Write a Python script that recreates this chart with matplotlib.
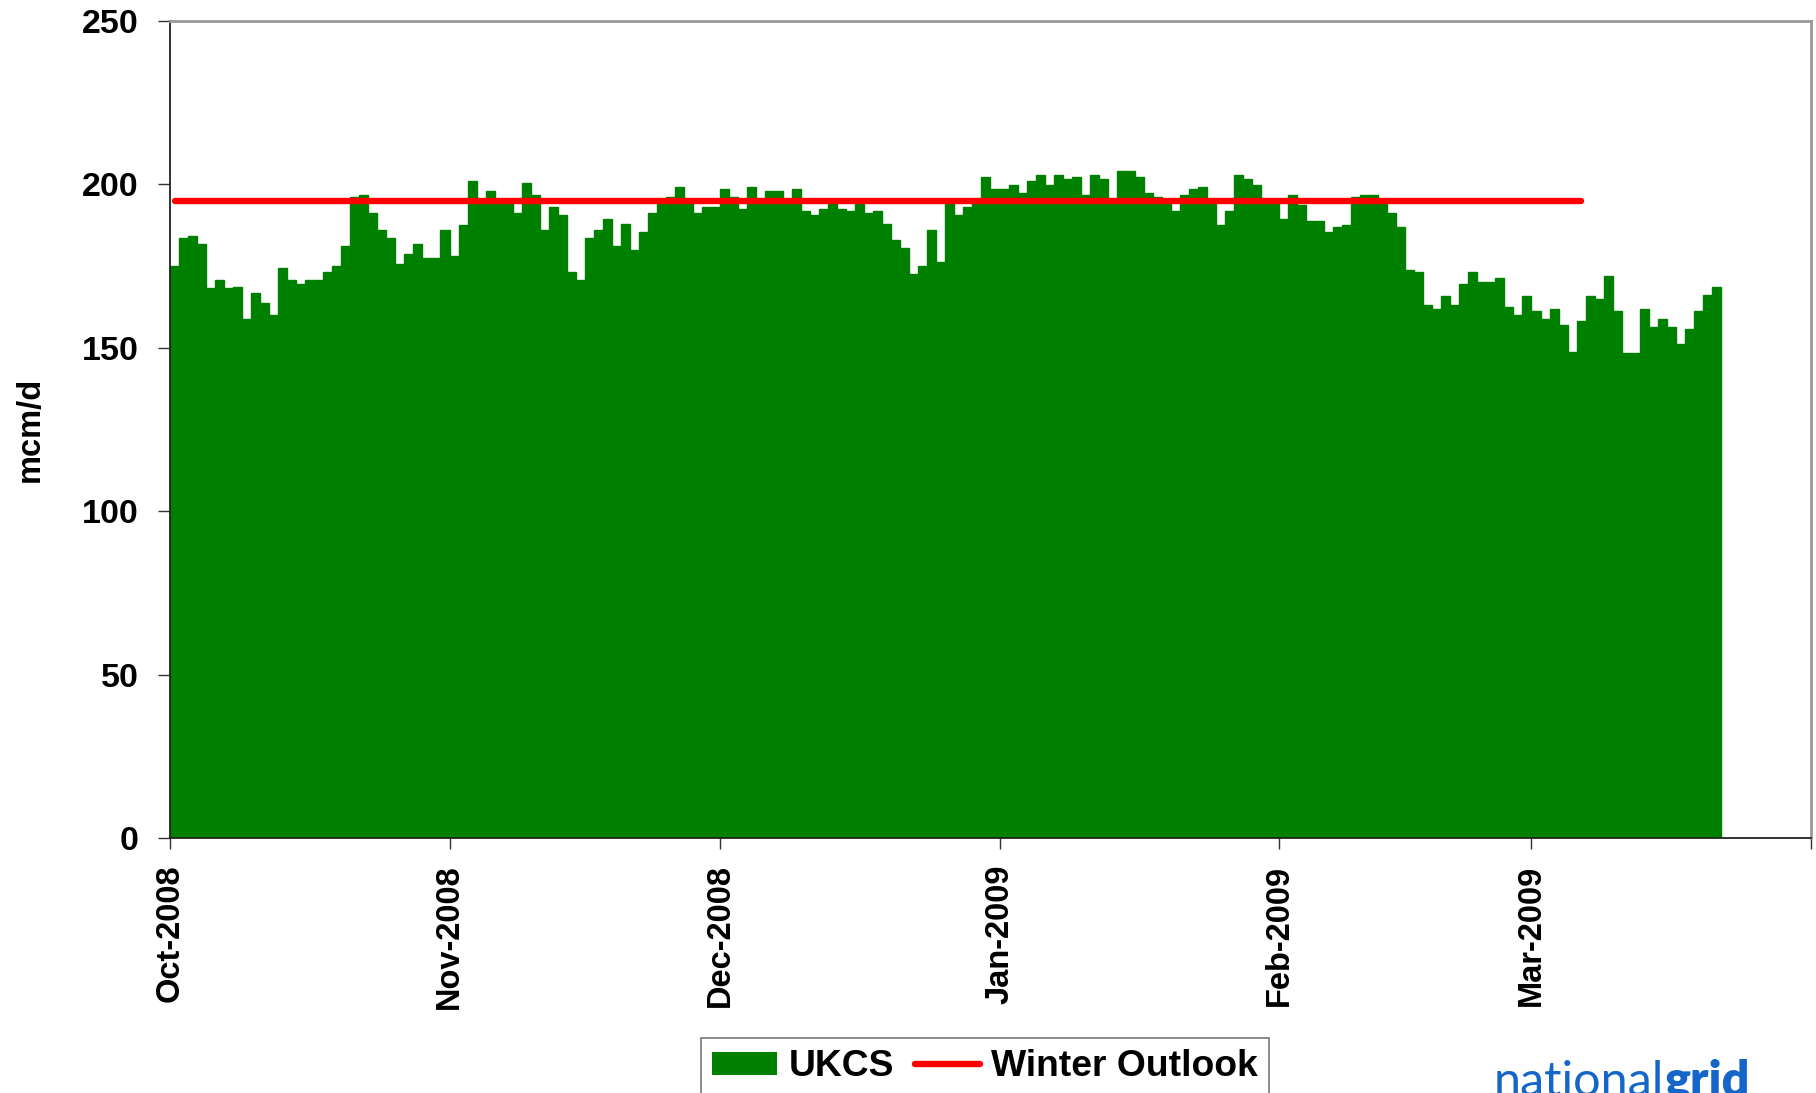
import numpy as np
import pandas as pd
import matplotlib
matplotlib.use("Agg")
import matplotlib.pyplot as plt
import matplotlib.dates as mdates
from matplotlib.patches import Patch
from matplotlib.lines import Line2D

plt.rcParams['font.family'] = ['Liberation Sans', 'DejaVu Sans']

# ---- data (mcm/d), daily from 1 Oct 2008 ----
start_date = "2008-10-01"
ukcs = [
    175.0, 183.6, 184.2, 181.7, 168.3, 170.7, 168.3, 168.6, 158.8, 166.7,
    163.7, 160.0, 174.4, 170.7, 169.5, 170.7, 170.7, 173.2, 175.0, 181.1,
    196.1, 196.7, 191.2, 186.0, 183.6, 175.6, 178.7, 181.7, 177.4, 177.4,
    186.0, 178.1, 187.6, 201.0, 193.9, 198.0, 195.3, 195.0, 191.2, 200.4,
    196.7, 186.0, 193.1, 190.6, 173.2, 170.7, 183.6, 186.0, 189.4, 181.1,
    187.9, 179.9, 185.4, 191.2, 195.2, 196.1, 199.2, 195.4, 191.2, 193.1,
    193.1, 198.6, 196.1, 192.4, 199.2, 195.5, 198.0, 198.0, 195.3, 198.6,
    191.8, 190.6, 192.4, 193.9, 192.4, 191.8, 193.9, 191.2, 191.8, 187.9,
    183.0, 180.5, 172.6, 175.0, 186.0, 176.2, 195.2, 190.6, 193.1, 195.0,
    202.2, 198.6, 198.6, 199.8, 197.3, 201.0, 202.9, 199.8, 202.9, 201.6,
    202.2, 196.7, 202.9, 201.6, 195.3, 204.1, 204.1, 202.2, 197.3, 196.1,
    195.2, 191.8, 196.7, 198.6, 199.2, 195.3, 187.6, 191.8, 202.9, 201.6,
    199.8, 193.9, 193.9, 189.4, 196.7, 193.7, 188.8, 188.8, 185.4, 187.0,
    187.6, 196.1, 196.7, 196.7, 193.9, 191.2, 187.0, 173.8, 173.2, 163.1,
    161.8, 165.8, 163.1, 169.5, 173.2, 170.1, 170.1, 171.3, 162.4, 160.0,
    165.8, 161.2, 158.8, 161.8, 156.9, 148.7, 158.2, 165.8, 164.9, 171.9,
    161.2, 148.4, 148.4, 161.8, 156.3, 158.8, 156.3, 151.1, 155.7, 161.2,
    166.1, 168.6,
]
winter_outlook = [195.0] * 157
month_ticks = ["2008-10-01", "2008-11-01", "2008-12-01", "2009-01-01",
               "2009-02-01", "2009-03-01", "2009-04-01"]
month_labels = ["Oct-2008", "Nov-2008", "Dec-2008", "Jan-2009",
                "Feb-2009", "Mar-2009", ""]
y_ticks = [0, 50, 100, 150, 200, 250]

dates = pd.date_range(start_date, periods=len(ukcs), freq="D")
wo_dates = pd.date_range(start_date, periods=len(winter_outlook), freq="D") + pd.Timedelta(hours=12)

W, H = 1816, 1093
fig = plt.figure(figsize=(W / 100, H / 100), dpi=100)
ax = fig.add_axes([170 / W, 1 - 838 / H, (1811 - 170) / W, (838 - 21) / H])

ax.bar(dates, ukcs, width=1.0, align="edge", color="#008000",
       edgecolor="#008000", linewidth=1.0, zorder=2)
ax.plot(wo_dates, winter_outlook, color="#ff0000", lw=4.6, solid_capstyle="round", zorder=3)

ax.set_xlim(pd.Timestamp("2008-10-01"), pd.Timestamp("2009-04-01"))
ax.set_ylim(0, 250)
ax.set_yticks(y_ticks)
ax.set_yticklabels([str(v) for v in y_ticks], fontsize=24.5, fontweight="bold")
ax.set_xticks([pd.Timestamp(t) for t in month_ticks])
ax.set_xticklabels(month_labels, rotation=90, fontsize=23.5, fontweight="bold")
ax.tick_params(axis="y", direction="out", length=8.5, width=1, color="#333333", pad=14)
ax.tick_params(axis="x", direction="out", length=8, width=1, color="#333333", pad=11)
ax.set_ylabel("mcm/d", fontsize=23.5, fontweight="bold", labelpad=26)

for side in ["left", "bottom"]:
    ax.spines[side].set_color("#222222")
    ax.spines[side].set_linewidth(1.3)
for side in ["top", "right"]:
    ax.spines[side].set_color("#999999")
    ax.spines[side].set_linewidth(2)

handles = [Patch(facecolor="#008000", edgecolor="none"),
           Line2D([0], [0], color="#ff0000", lw=4.6, solid_capstyle="round")]
leg = fig.legend(handles, ["UKCS", "Winter Outlook"], loc="center",
                 bbox_to_anchor=(985 / W, 1 - 1067 / H), ncol=2,
                 prop={"size": 26.8, "weight": "bold"}, frameon=True, fancybox=False,
                 handlelength=1.75, handleheight=0.55, handletextpad=0.3,
                 columnspacing=0.55, borderpad=0.3, borderaxespad=0)
leg.get_frame().set_edgecolor("#555555")
leg.get_frame().set_linewidth(1.2)

t1 = fig.text(1494 / W, 1 - 1096 / H, "national", fontsize=35, color="#1466c8",
              ha="left", va="baseline", family=["Lato", "DejaVu Sans"])
fig.canvas.draw()
bb = t1.get_window_extent()
fig.text(bb.x1 / W, 1 - 1096 / H, "grid", fontsize=35, color="#1466c8",
         ha="left", va="baseline", fontweight="heavy", family=["Lato", "DejaVu Sans"])

fig.savefig("out.png", dpi=100)
